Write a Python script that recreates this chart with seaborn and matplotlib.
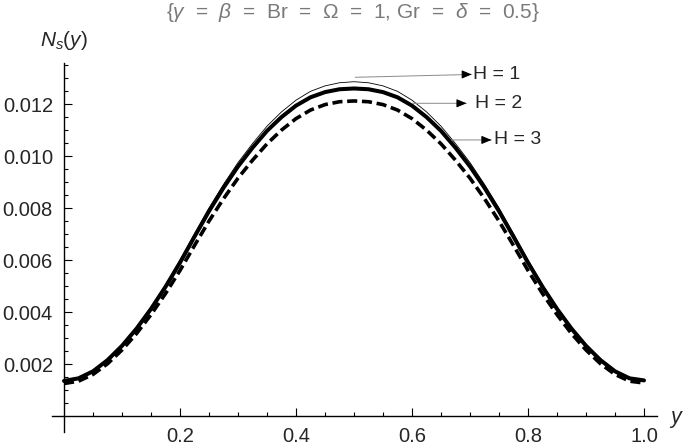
import matplotlib
matplotlib.use('Agg')
import matplotlib.pyplot as plt
import seaborn as sns
import numpy as np
import pandas as pd

# ---- data ----
y_grid = [0.000, 0.025, 0.050, 0.075, 0.100, 0.125, 0.150, 0.175, 0.200, 0.225,
          0.250, 0.275, 0.300, 0.325, 0.350, 0.375, 0.400, 0.425, 0.450, 0.475,
          0.500, 0.525, 0.550, 0.575, 0.600, 0.625, 0.650, 0.675, 0.700, 0.725,
          0.750, 0.775, 0.800, 0.825, 0.850, 0.875, 0.900, 0.925, 0.950, 0.975, 1.000]

ns_H1 = [0.00137, 0.00147, 0.00175, 0.00219, 0.00275, 0.00342, 0.00419, 0.00505, 0.00600, 0.00701,
         0.00800, 0.00891, 0.00975, 0.01048, 0.01115, 0.01170, 0.01215, 0.01249, 0.01270, 0.01282,
         0.01286, 0.01282, 0.01270, 0.01249, 0.01215, 0.01170, 0.01115, 0.01048, 0.00975, 0.00891,
         0.00800, 0.00701, 0.00600, 0.00505, 0.00419, 0.00342, 0.00275, 0.00219, 0.00175, 0.00147, 0.00139]

ns_H2 = [0.00135, 0.00145, 0.00172, 0.00215, 0.00270, 0.00336, 0.00412, 0.00497, 0.00590, 0.00690,
         0.00788, 0.00878, 0.00960, 0.01032, 0.01097, 0.01150, 0.01194, 0.01226, 0.01246, 0.01257,
         0.01260, 0.01257, 0.01246, 0.01226, 0.01194, 0.01150, 0.01097, 0.01032, 0.00960, 0.00878,
         0.00788, 0.00690, 0.00590, 0.00497, 0.00412, 0.00336, 0.00270, 0.00215, 0.00172, 0.00145, 0.00137]

ns_H3 = [0.00125, 0.00134, 0.00160, 0.00201, 0.00254, 0.00317, 0.00390, 0.00471, 0.00560, 0.00656,
         0.00750, 0.00836, 0.00915, 0.00984, 0.01047, 0.01100, 0.01144, 0.01177, 0.01198, 0.01209,
         0.01212, 0.01209, 0.01198, 0.01177, 0.01144, 0.01100, 0.01047, 0.00984, 0.00915, 0.00836,
         0.00750, 0.00656, 0.00560, 0.00471, 0.00390, 0.00317, 0.00254, 0.00201, 0.00160, 0.00134, 0.00127]

x_major = [0.2, 0.4, 0.6, 0.8, 1.0]
x_major_labels = ['0.2', '0.4', '0.6', '0.8', '1.0']
y_major = [0.002, 0.004, 0.006, 0.008, 0.010, 0.012]
y_major_labels = ['0.002', '0.004', '0.006', '0.008', '0.010', '0.012']

labels = ['H = 1', 'H = 2', 'H = 3']
# annotation geometry (tail on curve, arrow head, text anchor) in data coords
ann_tail = [(0.502, 0.01303), (0.600, 0.01203), (0.668, 0.01062)]
ann_head = [(0.703, 0.01314), (0.694, 0.01203), (0.737, 0.01062)]
ann_text_x = [0.706, 0.708, 0.741]

title = r'{$\gamma$  =  $\beta$  =  Br  =  Ω  =  1, Gr  =  $\delta$  =  0.5}'

# ---- style ----
sns.set_style('white')
plt.rcParams['font.family'] = ['Liberation Sans', 'DejaVu Sans']
plt.rcParams['mathtext.fontset'] = 'custom'
plt.rcParams['mathtext.rm'] = 'Liberation Sans'
plt.rcParams['mathtext.it'] = 'Liberation Sans:italic'
plt.rcParams['mathtext.bf'] = 'Liberation Sans:bold'

W, Hpx = 685, 445
fig = plt.figure(figsize=(W / 100, Hpx / 100), dpi=100)
ax = fig.add_axes([52 / W, 13 / Hpx, 605 / W, 369 / Hpx])

df = pd.DataFrame({'y': y_grid, 'H1': ns_H1, 'H2': ns_H2, 'H3': ns_H3})
sns.lineplot(data=df, x='y', y='H1', ax=ax, color='black', lw=0.6)
sns.lineplot(data=df, x='y', y='H2', ax=ax, color='black', lw=2.9)
sns.lineplot(data=df, x='y', y='H3', ax=ax, color='black', lw=2.6,
             linestyle=(0, (2.8, 1.3)))

ax.set_xlim(-0.0207, 1.0224)
ax.set_ylim(-0.000615, 0.01358)

for s in ['top', 'right']:
    ax.spines[s].set_visible(False)
ax.spines['left'].set_position(('data', 0))
ax.spines['bottom'].set_position(('data', 0))
for s in ['left', 'bottom']:
    ax.spines[s].set_color('black')
    ax.spines[s].set_linewidth(1.0)

ax.set_xticks(x_major)
ax.set_xticklabels(x_major_labels)
ax.set_yticks(y_major)
ax.set_yticklabels(y_major_labels)
x_minor = [v / 100 for v in range(5, 100, 5) if v % 20 != 0]
y_minor = [v / 10000 for v in range(5, 136, 5) if v % 20 != 0]
ax.set_xticks(x_minor, minor=True)
ax.set_yticks(y_minor, minor=True)
ax.tick_params(which='both', direction='in', color='black', width=0.8,
               bottom=True, left=True, top=False, right=False)
ax.tick_params(which='major', length=5.5)
ax.tick_params(which='minor', length=3)
ax.tick_params(axis='x', which='major', pad=8, labelsize=14.5)
ax.tick_params(axis='y', which='major', pad=8, labelsize=14.5)
ax.set_xlabel('')
ax.set_ylabel('')

# axis labels in Mathematica style
fig.text(64 / W, 1 - 40 / Hpx, r'$N_s(y)$', ha='center', va='center', fontsize=15)
fig.text(677 / W, 1 - 419 / Hpx, r'$y$', ha='center', va='center', fontsize=15.5)
fig.text(352.5 / W, 1 - 13 / Hpx, title, ha='center', va='center', fontsize=15,
         color='#7a7a7a')

for lab, tail, head, tx in zip(labels, ann_tail, ann_head, ann_text_x):
    ax.annotate('', xy=head, xytext=tail,
                arrowprops=dict(arrowstyle='-', color='#8a8a8a', lw=0.7,
                                shrinkA=0, shrinkB=0))
    pre = (head[0] - 0.012, head[1])
    ax.annotate('', xy=head, xytext=pre,
                arrowprops=dict(arrowstyle='-|>,head_length=0.6,head_width=0.25',
                                color='black', lw=0.7, shrinkA=0, shrinkB=0))
    ax.text(tx, head[1], lab, ha='left', va='center', fontsize=14)

fig.savefig('out.png', dpi=100)
